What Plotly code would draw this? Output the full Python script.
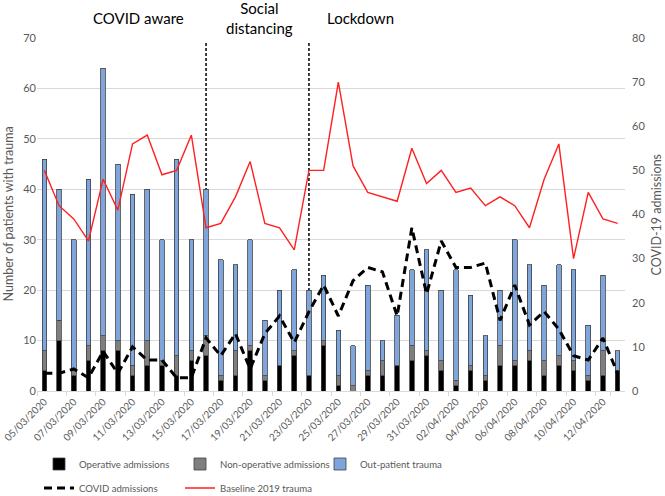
import plotly.graph_objects as go

dates = ["05/03/2020", "06/03/2020", "07/03/2020", "08/03/2020", "09/03/2020",
         "10/03/2020", "11/03/2020", "12/03/2020", "13/03/2020", "14/03/2020",
         "15/03/2020", "16/03/2020", "17/03/2020", "18/03/2020", "19/03/2020",
         "20/03/2020", "21/03/2020", "22/03/2020", "23/03/2020", "24/03/2020",
         "25/03/2020", "26/03/2020", "27/03/2020", "28/03/2020", "29/03/2020",
         "30/03/2020", "31/03/2020", "01/04/2020", "02/04/2020", "03/04/2020",
         "04/04/2020", "05/04/2020", "06/04/2020", "07/04/2020", "08/04/2020",
         "09/04/2020", "10/04/2020", "11/04/2020", "12/04/2020", "13/04/2020"]

operative = [4, 10, 3, 6, 8, 8, 3, 5, 5, 3, 6, 7, 2, 3, 8, 2, 5, 7, 3, 9,
             1, 0, 3, 3, 5, 6, 7, 4, 1, 4, 2, 5, 5, 6, 3, 5, 4, 2, 3, 4]
non_operative = [4, 4, 1, 3, 3, 2, 2, 5, 1, 4, 2, 4, 1, 5, 1, 1, 0, 1, 0, 1,
                 2, 1, 1, 3, 0, 3, 1, 2, 1, 1, 1, 4, 1, 2, 3, 2, 2, 1, 5, 0]
out_patient = [38, 26, 26, 33, 53, 35, 34, 30, 24, 39, 22, 29, 23, 17, 21, 11, 15, 16, 17, 13,
               9, 8, 17, 4, 10, 15, 20, 14, 22, 14, 8, 11, 24, 17, 15, 18, 18, 10, 15, 4]
covid_admissions = [4, 4, 5, 3, 9, 4, 10, 7, 7, 3, 3, 12, 8, 13, 5, 13, 17, 11, 18, 24,
                    17, 25, 28, 27, 17, 37, 22, 34, 28, 28, 29, 16, 24, 15, 18, 14, 8, 7, 12, 4]
baseline_2019 = [50, 42, 39, 34, 48, 41, 56, 58, 49, 50, 58, 37, 38, 44, 52, 38, 37, 32, 50, 50,
                 70, 51, 45, 44, 43, 55, 47, 50, 45, 46, 42, 44, 42, 37, 48, 56, 30, 45, 39, 38]

phase_dates = ["16/03/2020", "23/03/2020"]
phase_labels = ["COVID aware", "Social<br>distancing", "Lockdown"]

FONT = "Lato"
GREY = "#595959"
GRID = "#d9d9d9"
W, H = 665, 496

fig = go.Figure()
bar_style = dict(line=dict(color="#404040", width=0.8))
fig.add_trace(go.Bar(x=dates, y=operative, name="Operative admissions",
                     marker=dict(color="#000000", **bar_style), legend="legend"))
fig.add_trace(go.Bar(x=dates, y=non_operative, name="Non-operative admissions",
                     marker=dict(color="#7f7f7f", **bar_style), legend="legend2"))
fig.add_trace(go.Bar(x=dates, y=out_patient, name="Out-patient trauma",
                     marker=dict(color="#7ea6dc", **bar_style), legend="legend3"))
fig.add_trace(go.Scatter(x=dates, y=covid_admissions, name="COVID admissions", mode="lines",
                         line=dict(color="#000000", width=3, dash="8px,5px"),
                         yaxis="y2", legend="legend4"))
fig.add_trace(go.Scatter(x=dates, y=baseline_2019, name="Baseline 2019 trauma", mode="lines",
                         line=dict(color="#ff2020", width=1.4),
                         yaxis="y2", legend="legend5"))

for d in phase_dates:
    i = dates.index(d)
    fig.add_shape(type="line", xref="x", yref="y", x0=i, x1=i, y0=0, y1=69.2,
                  line=dict(color="#000000", width=1.5, dash="3px,2px"), layer="between")

ann_x = [0.172, 0.379, 0.551]
for lab, ax in zip(phase_labels, ann_x):
    fig.add_annotation(text=lab, xref="paper", yref="paper", x=ax, y=1.058,
                       xanchor="center", yanchor="middle", showarrow=False,
                       font=dict(family=FONT, size=15, color="#000000"))

fig.add_annotation(text="Number of patients with trauma", xref="paper", yref="paper",
                   x=-0.0493, y=0.5, textangle=-90, showarrow=False,
                   xanchor="center", yanchor="middle",
                   font=dict(family=FONT, size=12.5, color=GREY))
fig.add_annotation(text="COVID-19 admissions", xref="paper", yref="paper",
                   x=(656 - 37) / 588, y=0.5, textangle=-90, showarrow=False,
                   xanchor="center", yanchor="middle",
                   font=dict(family=FONT, size=12.5, color=GREY))


def leg(xpx, ypx):
    return dict(orientation="h", xref="container", yref="container",
                x=xpx / W, xanchor="left", y=1 - ypx / H, yanchor="middle",
                font=dict(family=FONT, size=9.6, color=GREY), bgcolor="rgba(0,0,0,0)")


fig.update_layout(
    width=W, height=H,
    margin=dict(l=37, r=40, t=38, b=105, autoexpand=False),
    paper_bgcolor="white", plot_bgcolor="white",
    barmode="stack", bargap=0.69,
    font=dict(family=FONT, size=10.5, color=GREY),
    xaxis=dict(type="category", tickmode="array", tickvals=dates[::2], ticktext=dates[::2],
               tickangle=-45, tickson="boundaries", ticks="outside", ticklen=4,
               tickcolor=GRID, showline=True, linecolor=GRID, linewidth=1,
               showgrid=False, automargin=False,
               tickfont=dict(family=FONT, size=10, color=GREY)),
    yaxis=dict(range=[0, 70], dtick=10, showgrid=True, gridcolor=GRID, gridwidth=1,
               zeroline=False, showline=False, ticks="", automargin=False,
               tickfont=dict(family=FONT, size=11, color=GREY)),
    yaxis2=dict(range=[0, 80], dtick=10, overlaying="y", side="right", showgrid=False,
                zeroline=False, showline=False, ticks="", automargin=False,
                ticklabelstandoff=6,
                tickfont=dict(family=FONT, size=11, color=GREY)),
    legend=leg(39, 464),
    legend2=leg(180, 464),
    legend3=leg(320, 464),
    legend4=leg(39, 488),
    legend5=leg(180, 488),
    showlegend=True,
)

fig.write_html("out.html", config={"displayModeBar": False},
               post_script="document.body.style.margin='0';document.body.style.overflow='hidden';")
